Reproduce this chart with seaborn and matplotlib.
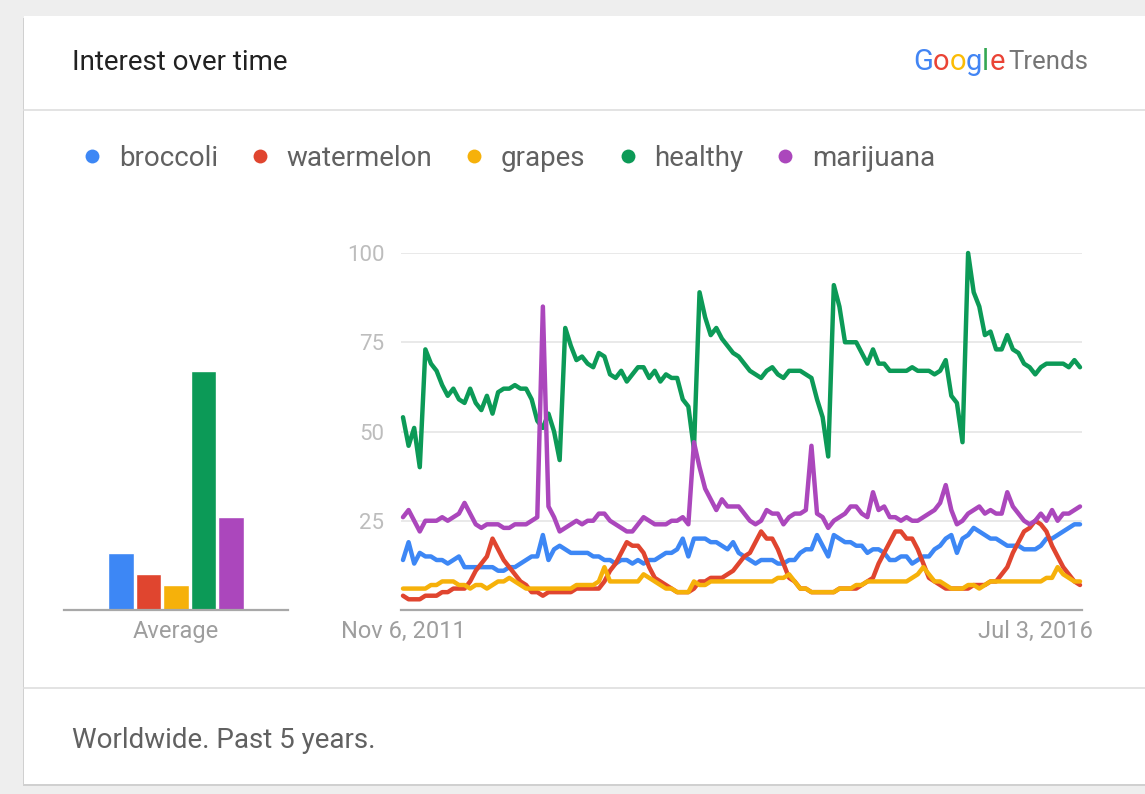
#%% imports
import numpy as np
import pandas as pd
import seaborn as sns
import matplotlib.pyplot as plt
from matplotlib.patches import Rectangle
from matplotlib.lines import Line2D
from matplotlib import transforms

#%% data (~biweekly samples)
terms = ['broccoli', 'watermelon', 'grapes', 'healthy', 'marijuana']
colors = ['#3d87f5', '#e0452f', '#f6b10a', '#0c9a57', '#ab47bc']
averages = [16, 10, 7, 67, 26]
start_label, end_label = 'Nov 6, 2011', 'Jul 3, 2016'

broccoli = [14, 19, 13, 16, 15, 15, 14, 14, 13, 14,
            15, 12, 12, 12, 12, 12, 12, 11, 11, 12,
            12, 13, 14, 15, 15, 21, 14, 17, 18, 17,
            16, 16, 16, 16, 15, 15, 14, 14, 13, 14,
            14, 13, 14, 13, 14, 14, 15, 16, 16, 17,
            20, 15, 20, 20, 20, 19, 19, 18, 17, 19,
            16, 15, 14, 13, 14, 14, 14, 13, 13, 14,
            14, 16, 17, 17, 21, 18, 15, 21, 20, 19,
            19, 18, 18, 16, 17, 17, 16, 14, 14, 15,
            15, 13, 14, 15, 15, 17, 18, 20, 21, 16,
            20, 21, 23, 22, 21, 20, 20, 19, 18, 18,
            18, 17, 17, 17, 18, 20, 20, 21, 22, 23,
            24, 24]
watermelon = [4, 3, 3, 3, 4, 4, 4, 5, 5, 6,
              6, 6, 8, 11, 13, 15, 20, 17, 14, 12,
              10, 8, 7, 5, 5, 4, 5, 5, 5, 5,
              5, 6, 6, 6, 6, 6, 8, 11, 13, 16,
              19, 18, 18, 16, 12, 9, 8, 7, 6, 5,
              5, 5, 6, 8, 8, 9, 9, 9, 10, 11,
              13, 15, 16, 19, 22, 20, 20, 17, 13, 9,
              8, 6, 6, 5, 5, 5, 5, 5, 6, 6,
              6, 6, 7, 8, 9, 13, 16, 19, 22, 22,
              20, 20, 17, 13, 9, 8, 7, 6, 6, 6,
              6, 6, 7, 7, 7, 8, 8, 10, 12, 16,
              19, 22, 23, 25, 24, 22, 18, 15, 12, 10,
              8, 7]
grapes = [6, 6, 6, 6, 6, 7, 7, 8, 8, 8,
          7, 7, 6, 7, 7, 6, 7, 8, 8, 9,
          8, 7, 6, 6, 6, 6, 6, 6, 6, 6,
          6, 7, 7, 7, 7, 8, 12, 8, 8, 8,
          8, 8, 8, 10, 9, 8, 7, 6, 6, 5,
          5, 5, 8, 7, 7, 8, 8, 8, 8, 8,
          8, 8, 8, 8, 8, 8, 8, 9, 9, 10,
          8, 6, 6, 5, 5, 5, 5, 5, 6, 6,
          6, 7, 7, 8, 8, 8, 8, 8, 8, 8,
          8, 9, 10, 12, 10, 8, 8, 7, 6, 6,
          6, 7, 7, 6, 7, 8, 8, 8, 8, 8,
          8, 8, 8, 8, 8, 9, 9, 12, 10, 9,
          8, 8]
healthy = [54, 46, 51, 40, 73, 69, 67, 63, 60, 62,
           59, 58, 62, 58, 56, 60, 55, 61, 62, 62,
           63, 62, 62, 59, 53, 51, 55, 50, 42, 79,
           74, 70, 71, 69, 68, 72, 71, 66, 65, 67,
           64, 66, 68, 68, 65, 67, 64, 66, 65, 65,
           59, 57, 45, 89, 82, 77, 79, 76, 74, 72,
           71, 69, 67, 66, 65, 67, 68, 66, 65, 67,
           67, 67, 66, 65, 59, 54, 43, 91, 85, 75,
           75, 75, 72, 69, 73, 69, 69, 67, 67, 67,
           67, 68, 67, 67, 67, 66, 67, 70, 60, 58,
           47, 100, 89, 85, 77, 78, 73, 73, 77, 73,
           72, 69, 68, 66, 68, 69, 69, 69, 69, 68,
           70, 68]
marijuana = [26, 28, 25, 22, 25, 25, 25, 26, 25, 26,
             27, 30, 27, 24, 23, 24, 24, 24, 23, 23,
             24, 24, 24, 25, 26, 85, 29, 26, 22, 23,
             24, 25, 24, 25, 25, 27, 27, 25, 24, 23,
             22, 22, 24, 26, 25, 24, 24, 24, 25, 25,
             26, 24, 47, 40, 34, 31, 28, 31, 29, 29,
             29, 27, 25, 24, 25, 28, 27, 27, 24, 26,
             27, 27, 28, 46, 27, 26, 23, 25, 26, 27,
             29, 29, 27, 26, 33, 28, 29, 26, 26, 25,
             26, 25, 25, 26, 27, 28, 30, 35, 28, 24,
             25, 27, 28, 29, 27, 28, 27, 27, 33, 29,
             27, 25, 24, 25, 27, 25, 28, 25, 27, 27,
             28, 29]

#%% prepare data
start, end = pd.Timestamp('2011-11-06'), pd.Timestamp('2016-07-03')
dates = pd.date_range(start, end, periods=len(healthy))
wide = pd.DataFrame({'date': dates, 'broccoli': broccoli, 'watermelon': watermelon,
                     'grapes': grapes, 'healthy': healthy, 'marijuana': marijuana})
df = wide.melt(id_vars='date', var_name='term', value_name='interest')
avg = pd.DataFrame({'term': terms, 'interest': averages})

#%% style
sns.set_style('white')
plt.rcParams['font.family'] = ['Roboto', 'DejaVu Sans']

W, H = 1145, 794
def fx(px): return px / W
def fy(py): return 1 - py / H

fig = plt.figure(figsize=(W / 100, H / 100), dpi=100, facecolor='#eeeeee')

# card with a soft shadow (kept behind the axes)
fig.patches.append(Rectangle((fx(23), fy(786)), 1.0, fy(18) - fy(786), transform=fig.transFigure,
                             facecolor='#d0d0d0', edgecolor='none', zorder=-3))
fig.patches.append(Rectangle((fx(24), fy(784)), 1.0, fy(16) - fy(784), transform=fig.transFigure,
                             facecolor='white', edgecolor='none', zorder=-2))
for yy in (110, 688):
    fig.add_artist(Line2D([fx(24), 1], [fy(yy), fy(yy)], transform=fig.transFigure,
                          color='#e0e0e0', lw=1.3, zorder=-1))

# header
fig.text(fx(72), fy(62), 'Interest over time', fontsize=20, color='#212121', va='center', ha='left')
renderer = fig.canvas.get_renderer()
x = 913
for ch, c in zip('Google', ['#4285f4', '#ea4335', '#fbbc05', '#4285f4', '#34a853', '#ea4335']):
    t = fig.text(fx(x), fy(62), ch, fontsize=21, color=c, va='center', ha='left')
    x = t.get_window_extent(renderer).x1
fig.text(fx(x + 4), fy(62), 'Trends', fontsize=18.5, color='#757575', va='center', ha='left')

# footer
fig.text(fx(72), fy(740), 'Worldwide. Past 5 years.', fontsize=20, color='#616161', va='center', ha='left')

#%% average bars
ax_bar = fig.add_axes([fx(64), fy(610), fx(288) - fx(64), fy(253) - fy(610)])
sns.barplot(data=avg, x='term', y='interest', hue='term', hue_order=terms, order=terms,
            palette=colors, saturation=1, width=0.94, legend=False, ax=ax_bar)
ax_bar.set_xlim(-2.07, 6.07)
ax_bar.set_ylim(0, 100)
ax_bar.set_xticks([2])
ax_bar.set_xticklabels(['Average'])
ax_bar.set_yticks([])
ax_bar.set_xlabel('')
ax_bar.set_ylabel('')
ax_bar.tick_params(axis='x', length=0, pad=7, labelsize=17, labelcolor='#9e9e9e')
sns.despine(ax=ax_bar, left=True)
ax_bar.spines['bottom'].set_color('#a8a8a8')
ax_bar.spines['bottom'].set_linewidth(1.6)
ax_bar.set_facecolor('none')

#%% interest over time
ax = fig.add_axes([fx(401), fy(610), fx(1082) - fx(401), fy(253) - fy(610)])
sns.lineplot(data=df, x='date', y='interest', hue='term', hue_order=terms, palette=colors,
             estimator=None, sort=False, lw=3.2, legend=False, ax=ax)
for line in ax.lines:
    line.set_clip_on(False)
    line.set_solid_joinstyle('round')
pad = pd.Timedelta(days=5)
ax.set_xlim(start - pad, end + pad)
ax.set_ylim(0, 100)
ax.set_yticks([25, 50, 75, 100])
ax.set_xticks([start, end])
ax.set_xticklabels([start_label, end_label])
ax.set_xlabel('')
ax.set_ylabel('')
ax.grid(axis='y', color='#e3e3e3', lw=1.1)
ax.grid(axis='x', visible=False)
ax.tick_params(axis='y', length=0, pad=12, labelsize=16, labelcolor='#bdbdbd')
ax.tick_params(axis='x', length=0, pad=7, labelsize=17, labelcolor='#9e9e9e')
sns.despine(ax=ax, left=True)
ax.spines['bottom'].set_color('#a8a8a8')
ax.spines['bottom'].set_linewidth(1.6)
ax.set_facecolor('none')

# last date label is kept inside the card (right aligned)
last = ax.get_xticklabels()[1]
last.set_ha('right')
last.set_transform(last.get_transform() + transforms.ScaledTranslation(0.13, 0, fig.dpi_scale_trans))

#%% legend row
handles = [Line2D([], [], ls='none', marker='o', markersize=10, markerfacecolor=c,
                  markeredgecolor='none') for c in colors]
fig.legend(handles, terms, loc='center left', bbox_to_anchor=(fx(84), fy(158)), ncol=5,
           frameon=False, fontsize=20, labelcolor='#616161', handlelength=0.6,
           handletextpad=0.65, columnspacing=1.22, borderpad=0, borderaxespad=0)

fig.savefig('out.png', dpi=100, facecolor=fig.get_facecolor())
